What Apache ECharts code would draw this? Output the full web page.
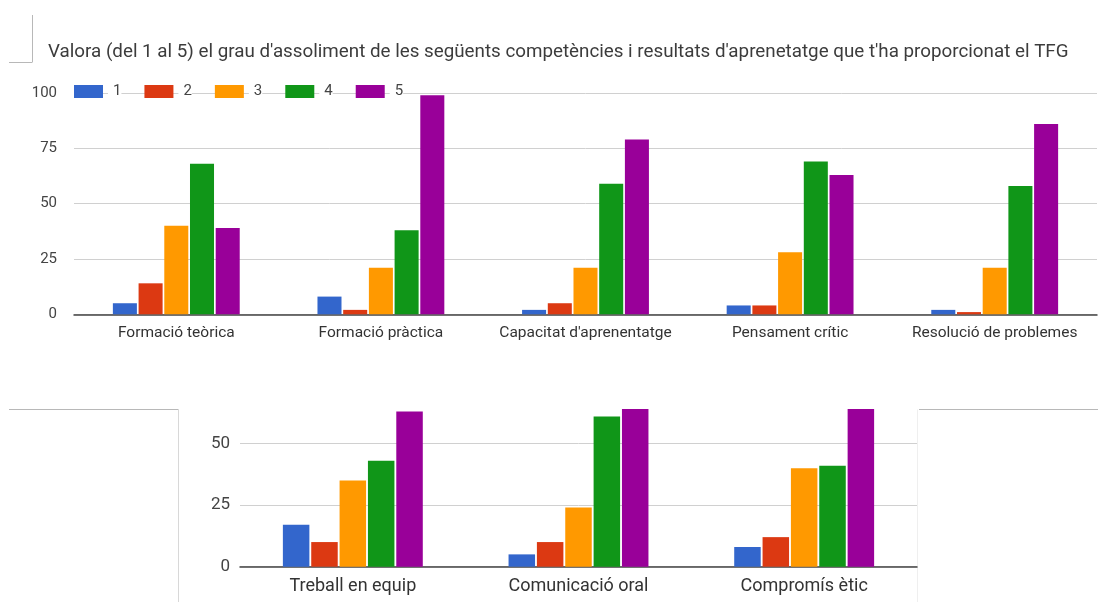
<!DOCTYPE html>
<html>
<head>
<meta charset="utf-8">
<script src="https://cdn.jsdelivr.net/npm/echarts@6/dist/echarts.min.js"></script>
<style>
html,body{margin:0;padding:0;background:#fff;}
#c{width:1099px;height:602px;}
</style>
</head>
<body>
<div id="c"></div>
<script>
const titleText = "Valora (del 1 al 5) el grau d'assoliment de les següents competències i resultats d'aprenetatge que t'ha proporcionat el TFG";
const seriesNames = ['1', '2', '3', '4', '5'];
const colors = ['#3366cc', '#dc3912', '#ff9900', '#109618', '#990099'];

const categoriesTop = ['Formació teòrica', 'Formació pràctica', "Capacitat d'aprenentatge", 'Pensament crític', 'Resolució de problemes'];
const top1 = [5, 8, 2, 4, 2];
const top2 = [14, 2, 5, 4, 1];
const top3 = [40, 21, 21, 28, 21];
const top4 = [68, 38, 59, 69, 58];
const top5 = [39, 99, 79, 63, 86];

const categoriesBottom = ['Treball en equip', 'Comunicació oral', 'Compromís ètic'];
const bot1 = [17, 5, 8];
const bot2 = [10, 10, 12];
const bot3 = [35, 24, 40];
const bot4 = [43, 61, 41];
const bot5 = [63, 64, 64];

const topTicks = {min: 0, max: 100, interval: 25};
const botTicks = {min: 0, max: 64, interval: 25};

const topData = [top1, top2, top3, top4, top5];
const botData = [bot1, bot2, bot3, bot4, bot5];

const font = 'Roboto, "Liberation Sans", Arial, sans-serif';
const chart = echarts.init(document.getElementById('c'), null, {renderer: 'canvas'});

const series = [];
seriesNames.forEach((n, i) => {
  series.push({
    name: n, type: 'bar', xAxisIndex: 0, yAxisIndex: 0, data: topData[i],
    itemStyle: {color: colors[i]}, barGap: '7%', barCategoryGap: '38%', clip: true
  });
});
seriesNames.forEach((n, i) => {
  series.push({
    name: n, type: 'bar', xAxisIndex: 1, yAxisIndex: 1, data: botData[i],
    itemStyle: {color: colors[i]}, barGap: '7%', barCategoryGap: '38%', clip: true
  });
});

const lineStyle = {stroke: '#b8b8b8', lineWidth: 1};
const option = {
  animation: false,
  backgroundColor: '#fff',
  textStyle: {fontFamily: font},
  color: colors,
  title: {
    text: titleText, left: 43, top: 38,
    textStyle: {fontSize: 18.8, fontWeight: 'normal', color: '#3c3c3c', fontFamily: font}
  },
  legend: {
    data: seriesNames, left: 74, top: 83, padding: 0, itemWidth: 29, itemHeight: 13, itemGap: 23,
    icon: 'rect',
    textStyle: {fontSize: 15, color: '#444', padding: [2, 0, 0, 5], backgroundColor: '#fff', fontFamily: font}
  },
  grid: [
    {left: 74, top: 93, width: 1023, height: 221.3, containLabel: false},
    {left: 240, top: 409, width: 677, height: 157.7, containLabel: false}
  ],
  xAxis: [
    {type: 'category', gridIndex: 0, data: categoriesTop,
     axisTick: {show: false}, axisLine: {lineStyle: {color: '#444', width: 1.5}},
     axisLabel: {fontSize: 15.5, color: '#333', margin: 11, interval: 0}},
    {type: 'category', gridIndex: 1, data: categoriesBottom,
     axisTick: {show: false}, axisLine: {lineStyle: {color: '#444', width: 1.5}},
     axisLabel: {fontSize: 18, color: '#333', margin: 11, interval: 0}}
  ],
  yAxis: [
    {type: 'value', gridIndex: 0, min: topTicks.min, max: topTicks.max, interval: topTicks.interval,
     axisLine: {show: false}, axisTick: {show: false},
     axisLabel: {fontSize: 15, color: '#444', margin: 17},
     splitLine: {lineStyle: {color: '#d0d0d0', width: 1}}},
    {type: 'value', gridIndex: 1, min: botTicks.min, max: botTicks.max, interval: botTicks.interval,
     axisLine: {show: false}, axisTick: {show: false},
     axisLabel: {fontSize: 17, color: '#444', margin: 10, showMaxLabel: false},
     splitLine: {showMaxLine: false, lineStyle: {color: '#d0d0d0', width: 1}}}
  ],
  graphic: [
    {type: 'line', shape: {x1: 32.5, y1: 15, x2: 32.5, y2: 62}, style: lineStyle, silent: true},
    {type: 'line', shape: {x1: 9, y1: 62.5, x2: 32.5, y2: 62.5}, style: lineStyle, silent: true},
    {type: 'line', shape: {x1: 9, y1: 409.5, x2: 178.5, y2: 409.5}, style: lineStyle, silent: true},
    {type: 'line', shape: {x1: 178.5, y1: 409.5, x2: 178.5, y2: 602}, style: {stroke: '#d8d8d8', lineWidth: 1}, silent: true},
    {type: 'line', shape: {x1: 919, y1: 409.5, x2: 1098, y2: 409.5}, style: lineStyle, silent: true},
    {type: 'line', shape: {x1: 917.5, y1: 409.5, x2: 917.5, y2: 602}, style: {stroke: '#efefef', lineWidth: 1}, silent: true}
  ],
  series: series
};
chart.setOption(option);
</script>
</body>
</html>
